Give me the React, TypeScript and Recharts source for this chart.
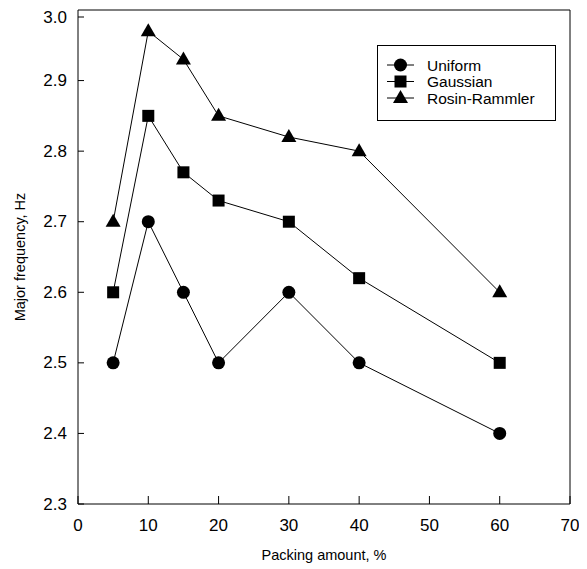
import React from 'react';
import { LineChart, Line, XAxis, YAxis, ReferenceLine } from 'recharts';

const packingAmount = [5, 10, 15, 20, 30, 40, 60];
const uniform = [2.5, 2.7, 2.6, 2.5, 2.6, 2.5, 2.4];
const gaussian = [2.6, 2.85, 2.77, 2.73, 2.7, 2.62, 2.5];
const rosinRammler = [2.7, 2.97, 2.93, 2.85, 2.82, 2.8, 2.6];
const seriesNames = ['Uniform', 'Gaussian', 'Rosin-Rammler'];
const xTicks = [0, 10, 20, 30, 40, 50, 60, 70];
const yTicks = [2.3, 2.4, 2.5, 2.6, 2.7, 2.8, 2.9, 3.0];

const data = packingAmount.map((x, i) => ({
  x,
  uniform: uniform[i],
  gaussian: gaussian[i],
  rosin: rosinRammler[i],
}));

const FONT = '"Liberation Sans", Arial, Helvetica, sans-serif';

type Shape = 'circle' | 'square' | 'triangle';

function Marker({ cx, cy, shape }: { cx: number; cy: number; shape: Shape }) {
  if (cx == null || cy == null) return null;
  if (shape === 'circle') return <circle cx={cx} cy={cy} r={6.5} fill="#000" />;
  if (shape === 'square') return <rect x={cx - 6} y={cy - 6} width={12} height={12} fill="#000" />;
  return <polygon points={`${cx},${cy - 8} ${cx + 7.5},${cy + 5} ${cx - 7.5},${cy + 5}`} fill="#000" />;
}

const makeDot = (shape: Shape) => (props: any) => (
  <Marker key={`${shape}-${props.index}`} cx={props.cx} cy={props.cy} shape={shape} />
);

const YTick = (props: any) => {
  const { x, y, payload } = props;
  return (
    <g>
      <line x1={x} y1={y} x2={x + 6} y2={y} stroke="#000" strokeWidth={1} />
      <text x={x - 11} y={y} textAnchor="end" dominantBaseline="central" fontFamily={FONT} fontSize={17} fill="#000">
        {Number(payload.value).toFixed(1)}
      </text>
    </g>
  );
};

const XTick = (props: any) => {
  const { x, y, payload } = props;
  return (
    <g>
      <line x1={x} y1={y} x2={x} y2={y - 8} stroke="#000" strokeWidth={1} />
      <text x={x} y={y + 21} textAnchor="middle" dominantBaseline="central" fontFamily={FONT} fontSize={17} fill="#000">
        {payload.value}
      </text>
    </g>
  );
};

const shapes: Shape[] = ['circle', 'square', 'triangle'];

const LegendBox = () => (
  <div style={{ position: 'absolute', left: 369, top: 37, width: 179, height: 76, border: '1px solid #000', boxSizing: 'border-box', background: '#fff' }}>
    <svg width={177} height={74} style={{ display: 'block' }}>
      {seriesNames.map((name, i) => {
        const cy = 19 + i * 16.5;
        return (
          <g key={name}>
            <line x1={9} y1={cy} x2={36} y2={cy} stroke="#000" strokeWidth={1} />
            <Marker cx={22.5} cy={cy} shape={shapes[i]} />
            <text x={49} y={cy} dominantBaseline="central" fontFamily={FONT} fontSize={15.5} fill="#000">
              {name}
            </text>
          </g>
        );
      })}
    </svg>
  </div>
);

export default function App() {
  return (
    <div style={{ position: 'relative', width: 579, height: 561 }}>
      <LineChart
        width={579}
        height={561}
        data={data}
        margin={{ top: 2, right: 17, left: 0, bottom: 25 }}
        style={{ background: '#fff' }}
      >
        <XAxis
          dataKey="x"
          type="number"
          domain={[0, 70]}
          ticks={xTicks}
          tickSize={0}
          tickMargin={0}
          tick={<XTick />}
          height={40}
          axisLine={{ stroke: '#000', strokeWidth: 1 }}
          tickLine={false}
          label={{
            content: (p: any) => {
              const vb = p.viewBox;
              return (
                <text x={vb.x + vb.width / 2} y={vb.y + 51} textAnchor="middle" dominantBaseline="central" fontFamily={FONT} fontSize={14.5} fill="#000">
                  Packing amount, %
                </text>
              );
            },
          }}
        />
        <YAxis
          type="number"
          domain={[2.3, 3.0]}
          ticks={yTicks}
          tickSize={0}
          tickMargin={0}
          tick={<YTick />}
          width={70}
          axisLine={{ stroke: '#000', strokeWidth: 1 }}
          tickLine={false}
          allowDataOverflow
          label={{
            content: (p: any) => {
              const vb = p.viewBox;
              const cx = vb.x + 12;
              const cy = vb.y + vb.height / 2;
              return (
                <text x={cx} y={cy} transform={`rotate(-90, ${cx}, ${cy})`} textAnchor="middle" dominantBaseline="central" fontFamily={FONT} fontSize={14.5} fill="#000">
                  Major frequency, Hz
                </text>
              );
            },
          }}
        />
        <ReferenceLine y={3.0} stroke="#000" strokeWidth={1} />
        <ReferenceLine x={70} stroke="#000" strokeWidth={1} />
        <Line dataKey="uniform" name={seriesNames[0]} stroke="#000" strokeWidth={1} dot={makeDot('circle')} activeDot={false} isAnimationActive={false} />
        <Line dataKey="gaussian" name={seriesNames[1]} stroke="#000" strokeWidth={1} dot={makeDot('square')} activeDot={false} isAnimationActive={false} />
        <Line dataKey="rosin" name={seriesNames[2]} stroke="#000" strokeWidth={1} dot={makeDot('triangle')} activeDot={false} isAnimationActive={false} />
      </LineChart>
      <LegendBox />
    </div>
  );
}
